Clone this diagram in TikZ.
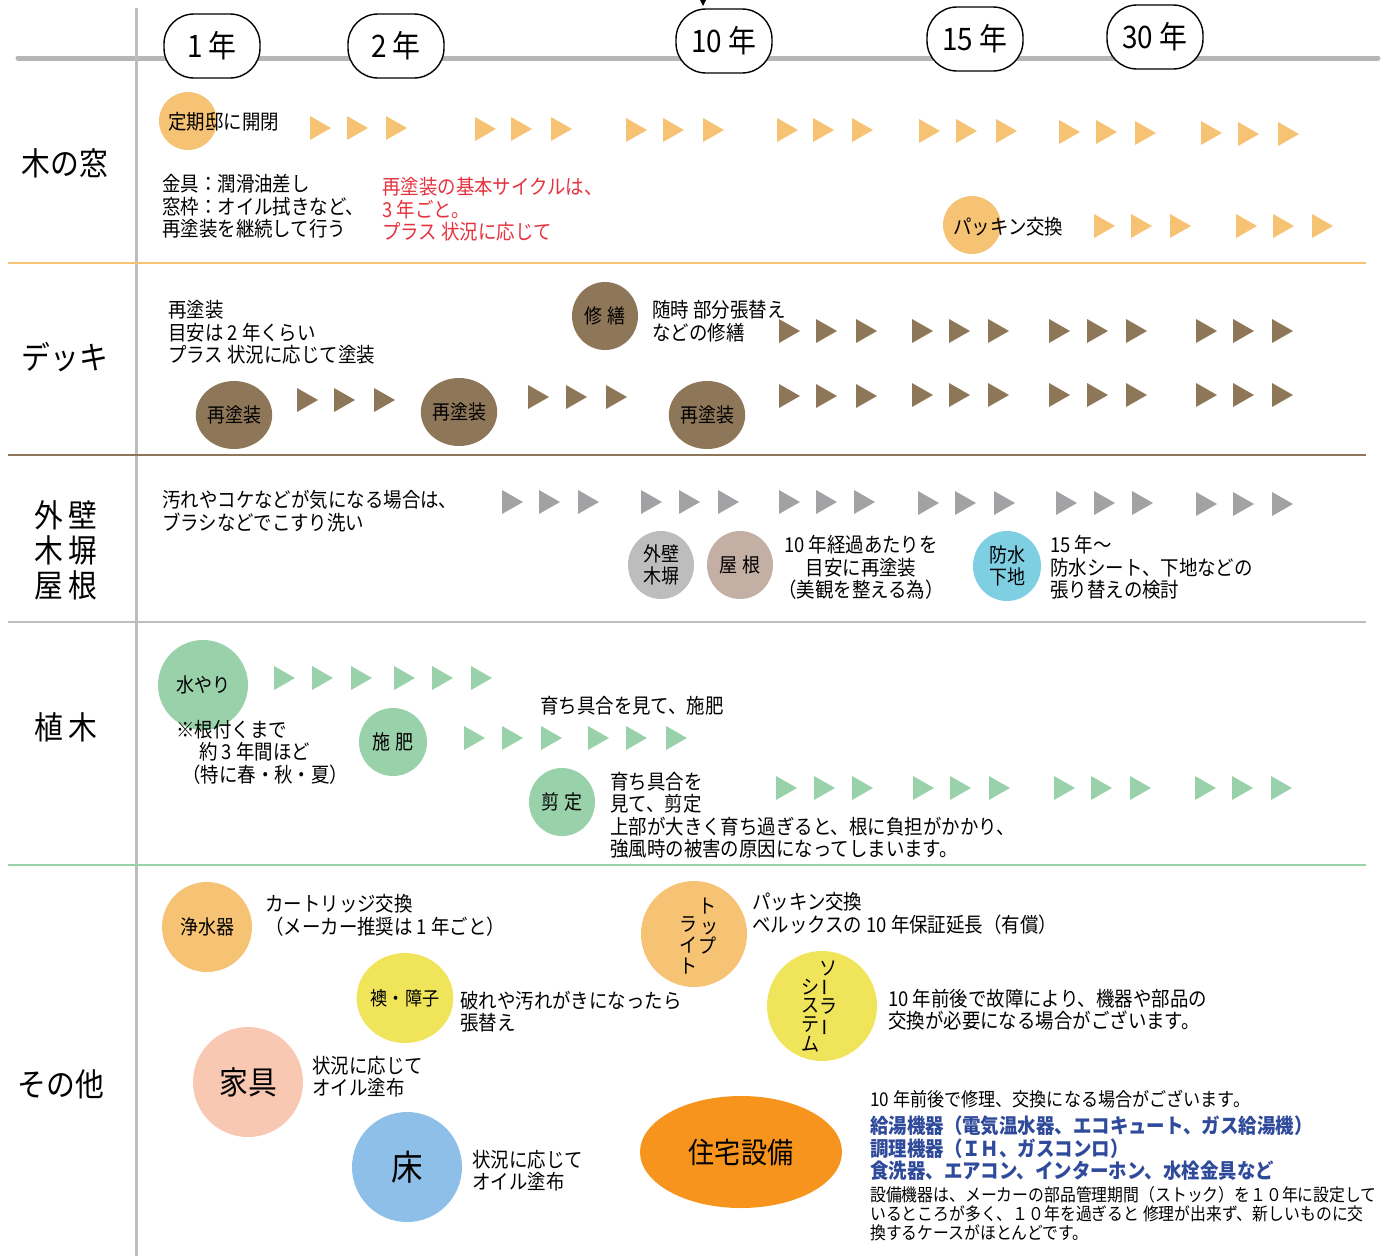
\documentclass[tikz,border=0pt]{standalone}
\usepackage{fontspec}
\setmainfont{Noto Sans CJK JP}[FakeStretch=0.9]
\usetikzlibrary{shapes.geometric}
\definecolor{cLine}{HTML}{B6B6B6}
\definecolor{cOr}{HTML}{F6C274}
\definecolor{cBr}{HTML}{8E7658}
\definecolor{cGrT}{HTML}{A2A2A5}
\definecolor{cGrC}{HTML}{BDBDBD}
\definecolor{cRoof}{HTML}{C3AFA4}
\definecolor{cCyan}{HTML}{7FCFE3}
\definecolor{cGn}{HTML}{99D1AA}
\definecolor{cYe}{HTML}{EFE45A}
\definecolor{cPk}{HTML}{F9C8B3}
\definecolor{cBl}{HTML}{8DBFE8}
\definecolor{cOrS}{HTML}{F7941E}
\definecolor{cRed}{HTML}{E5323E}
\definecolor{cBlT}{HTML}{2F4A9A}
\newcommand\tri[3]{\fill[#3] ({#1-10},{#2-12}) -- ({#1+11},{#2}) -- ({#1-10},{#2+12}) -- cycle;}
\newcommand\fsz[2]{\fontsize{#1}{#2}\selectfont}
\begin{document}
\begin{tikzpicture}[x=1pt,y=-1pt,
  yearbox/.style={draw=black,line width=1.4pt,fill=white,rounded corners=30pt,minimum width=96pt,minimum height=64pt,inner sep=0,font=\fsz{31}{31}},
  rowlabel/.style={inner sep=0,font=\fsz{32}{35},align=center},
  txt/.style={anchor=west,inner sep=0,font=\fsz{20.5}{22.5},align=left},
  blob/.style={ellipse,inner sep=0,font=\fsz{20}{22},align=center},
  vch/.style={inner sep=0,font=\fsz{20}{20}}]
\useasboundingbox (0,0) rectangle (1384,1256);
% axes
\draw[cLine,line width=5pt,line cap=round] (18,58) -- (1378,58);
\draw[cGrC,line width=3pt] (136,8) -- (136,1256);
% separators
\draw[cOr,line width=2.5pt] (8,263) -- (1366,263);
\draw[cBr,line width=2.5pt] (8,455) -- (1366,455);
\draw[cGrC,line width=2.5pt] (8,622) -- (1366,622);
\draw[cGn,line width=2.5pt] (8,865) -- (1366,865);
% year boxes
\node[yearbox] (y1) at (212,46) {1 年};
\node[yearbox] (y2) at (396,46) {2 年};
\node[yearbox] (y10) at (724,41) {10 年};
\node[yearbox] (y15) at (975,39) {15 年};
\node[yearbox] (y30) at (1155,37) {30 年};
\coordinate (mk) at (703,0);
\fill[black] (700,0) -- (706,0) -- (703,6) -- cycle;
% row labels
\node[rowlabel] (lw) at (65,163) {木の窓};
\node[rowlabel] (ld) at (65,357) {デッキ};
\node[rowlabel] (lx) at (66,550) {外\,壁\\木\,塀\\屋\,根};
\node[rowlabel] (lp) at (66,727) {植\,木};
\node[rowlabel] (lo) at (61,1084) {その他};
% ---- window row
\node[circle,fill=cOr,minimum size=58pt,inner sep=0] (w1) at (188,121) {};
\node[txt] (w1t) at (168,122) {定期邸に開閉};
\foreach \x/\y in {320/128,357/128,396/128,485/129,521/129,561/129,636/130,673/130,713/130,787/130,823/130,862/130,929/131,966/131,1006/131,1069/132,1106/132,1145/133,1211/133,1248/134,1288/134} {\tri{\x}{\y}{cOr}}
\node[txt] (w2t) at (162,206.5) {金具：潤滑油差し\\窓枠：オイル拭きなど、\\再塗装を継続して行う};
\node[txt,text=cRed] (w3t) at (382,209.5) {再塗装の基本サイクルは、\\3 年ごと。\\プラス 状況に応じて};
\node[circle,fill=cOr,minimum size=58pt,inner sep=0] (w4) at (972,225) {};
\node[txt] (w4t) at (953,227) {パッキン交換};
\foreach \x in {1104,1141,1180,1246,1283,1322} {\tri{\x}{226}{cOr}}
% ---- deck row
\node[txt] (d1t) at (168,332.5) {再塗装\\目安は 2 年くらい\\プラス 状況に応じて塗装};
\node[blob,fill=cBr,minimum width=66pt,minimum height=68pt] (d2) at (605,316) {修 繕};
\node[txt] (d2t) at (652,321) {随時 部分張替え\\などの修繕};
\foreach \x in {789,826,866,922,959,998,1059,1097,1136,1206,1243,1282} {\tri{\x}{331}{cBr}}
\node[blob,fill=cBr,minimum width=66pt,minimum height=68pt] (d3) at (234,415) {再塗装};
\node[blob,fill=cBr,minimum width=66pt,minimum height=68pt] (d4) at (459,412) {再塗装};
\node[blob,fill=cBr,minimum width=66pt,minimum height=68pt] (d5) at (707,415) {再塗装};
\foreach \x/\y in {307/400,344/400,384/400,538/397,576/397,616/397,789/396,826/396,866/396,922/395,959/395,998/395,1059/395,1097/395,1136/395,1206/395,1243/395,1282/395} {\tri{\x}{\y}{cBr}}
% ---- wall row
\node[txt] (x1t) at (162,511) {汚れやコケなどが気になる場合は、\\ブラシなどでこすり洗い};
\foreach \x/\y in {512/502,549/502,588/502,651/502,689/502,728/502,789/502,826/502,864/502,928/503,965/503,1004/503,1066/503,1104/503,1142/503,1206/504,1243/504,1282/504} {\tri{\x}{\y}{cGrT}}
\node[blob,fill=cGrC,minimum width=66pt,minimum height=68pt] (x2) at (661,565) {外壁\\木塀};
\node[blob,fill=cRoof,minimum width=66pt,minimum height=68pt] (x3) at (740,565) {屋 根};
\node[txt,anchor=center,align=center] (x3t) at (861,567.5) {10 年経過あたりを\\目安に再塗装\\（美観を整える為）};
\node[blob,fill=cCyan,minimum width=68pt,minimum height=70pt] (x4) at (1007,566) {防水\\下地};
\node[txt] (x4t) at (1050,567.5) {15 年～\\防水シート、下地などの\\張り替えの検討};
% ---- plants row
\node[blob,fill=cGn,minimum width=90pt,minimum height=90pt] (p1) at (203,685) {水やり};
\foreach \x in {284,322,361,404,442,481} {\tri{\x}{678}{cGn}}
\node[txt] (p1a) at (176,730) {※根付くまで};
\node[txt] (p1b) at (199,752) {約 3 年間ほど};
\node[txt] (p1c) at (182,775) {（特に春・秋・夏）};
\node[blob,fill=cGn,minimum width=68pt,minimum height=68pt] (p2) at (393,742) {施 肥};
\node[txt] (p2t) at (540,706) {育ち具合を見て、施肥};
\foreach \x in {474,512,551,598,636,676} {\tri{\x}{738}{cGn}}
\node[blob,fill=cGn,minimum width=66pt,minimum height=68pt] (p3) at (562,802) {剪 定};
\node[txt] (p3t) at (610,815.5) {育ち具合を\\見て、剪定\\上部が大きく育ち過ぎると、根に負担がかかり、\\強風時の被害の原因になってしまいます。};
\foreach \x in {786,824,862,923,960,999,1064,1101,1140,1205,1242,1281} {\tri{\x}{788}{cGn}}
% ---- others row
\node[blob,fill=cOr,minimum width=90pt,minimum height=90pt] (o1) at (207,927) {浄水器};
\node[txt] (o1t) at (265,915.5) {カートリッジ交換\\（メーカー推奨は 1 年ごと）};
\node[blob,fill=cYe,minimum width=90pt,minimum height=90pt,font=\fsz{19}{19}] (o2) at (405,998) {襖・障子};
\node[txt] (o2t) at (460,1011.5) {破れや汚れがきになったら\\張替え};
\node[blob,fill=cPk,minimum width=110pt,minimum height=110pt,font=\fsz{32}{32}] (o3) at (248,1082) {家具};
\node[txt] (o3t) at (312,1076.5) {状況に応じて\\オイル塗布};
\node[blob,fill=cBl,minimum width=110pt,minimum height=110pt,font=\fsz{35}{35}] (o4) at (407,1167) {床};
\node[txt] (o4t) at (472,1170.5) {状況に応じて\\オイル塗布};
% top light
\node[blob,fill=cOr,minimum width=106pt,minimum height=106pt] (o5) at (694,934) {};
\node[vch] (tl1) at (707,906) {ト};
\node[vch] (tl2) at (709,928) {ッ};
\node[vch] (tl3) at (707,946) {プ};
\node[vch] (tl4) at (688,924) {ラ};
\node[vch] (tl5) at (688,945) {イ};
\node[vch] (tl6) at (688,966) {ト};
\node[txt] (o5t) at (752,913.5) {パッキン交換\\ベルックスの 10 年保証延長（有償）};
% solar
\node[blob,fill=cYe,minimum width=110pt,minimum height=110pt] (o6) at (822,1006) {};
\node[vch] (so1) at (828,968) {ソ};
\node[vch,rotate=90] (so2) at (828,987) {ー};
\node[vch] (so3) at (828,1006) {ラ};
\node[vch,rotate=90] (so4) at (828,1027) {ー};
\node[vch] (so5) at (810,987) {シ};
\node[vch] (so6) at (810,1006) {ス};
\node[vch] (so7) at (810,1025) {テ};
\node[vch] (so8) at (810,1044) {ム};
\node[txt] (o6t) at (888,1009.5) {10 年前後で故障により、機器や部品の\\交換が必要になる場合がございます。};
% housing equipment
\node[ellipse,fill=cOrS,minimum width=202pt,minimum height=112pt,inner sep=0,font=\fsz{29}{29}] (o7) at (741,1152) {住宅設備};
\node[txt,font=\fsz{19}{21}] (o7a) at (870,1099) {10 年前後で修理、交換になる場合がございます。};
\node[txt,text=cBlT,font=\fsz{20.5}{22.5}\bfseries] (o7b) at (870,1148.5) {給湯機器（電気温水器、エコキュート、ガス給湯機）\\調理機器（ＩＨ、ガスコンロ）\\食洗器、エアコン、インターホン、水栓金具など};
\node[txt,font=\fsz{17.6}{19}] (o7c) at (870,1214) {設備機器は、メーカーの部品管理期間（ストック）を１０年に設定して\\いるところが多く、１０年を過ぎると 修理が出来ず、新しいものに交\\換するケースがほとんどです。};
\end{tikzpicture}
\end{document}
